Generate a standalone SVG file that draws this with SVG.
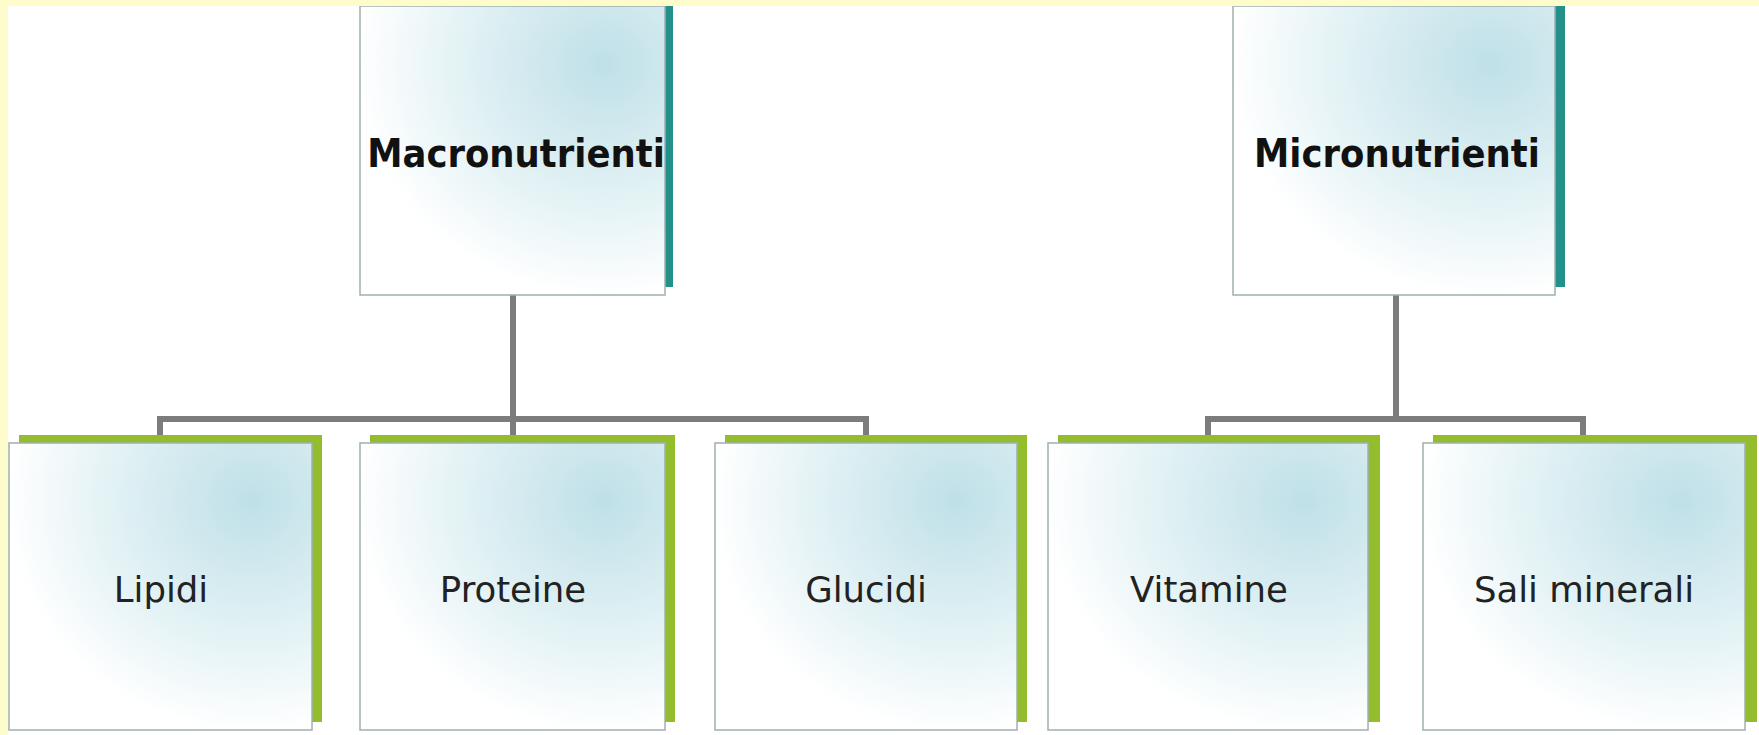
<svg xmlns="http://www.w3.org/2000/svg" width="1759" height="735" viewBox="0 0 1759 735">
  <defs>
    <radialGradient id="fill" cx="0.8" cy="0.2" r="0.95" fx="0.8" fy="0.2">
      <stop offset="0" stop-color="#bfe0e8"/>
      <stop offset="0.5" stop-color="#e3f2f5"/>
      <stop offset="0.85" stop-color="#ffffff"/>
    </radialGradient>
    <style>
      .box { fill: url(#fill); stroke: #9fb0b0; stroke-width: 1.5; }
      .sh-teal { fill: #23908a; }
      .sh-green { fill: #93bd2c; }
      .conn { fill: none; stroke: #7c7c7c; stroke-width: 6; stroke-linejoin: miter; }
      .t-parent { font-family: "DejaVu Sans", Verdana, sans-serif; font-weight: bold; font-size: 35.5px; fill: #111; text-anchor: middle; }
      .t-child { font-family: "DejaVu Sans", Verdana, sans-serif; font-size: 35.5px; fill: #222; text-anchor: middle; }
    </style>
  </defs>

  <rect x="0" y="0" width="1759" height="735" fill="#ffffff"/>

  <g id="connectors">
    <path class="conn" d="M513,295 V419 M160,435 V419 H866 V435 M513,419 V435"/>
    <path class="conn" d="M1396,295 V419 M1208,435 V419 H1583 V435"/>
  </g>

  <g id="macronutrienti">
    <rect class="sh-teal" x="368" y="-2" width="305" height="289"/>
    <rect class="box" x="360" y="6" width="305" height="289"/>
    <text class="t-parent" transform="translate(516,167) scale(1,1.1)">Macronutrienti</text>
  </g>

  <g id="micronutrienti">
    <rect class="sh-teal" x="1243" y="-2" width="322" height="289"/>
    <rect class="box" x="1233" y="6" width="322" height="289"/>
    <text class="t-parent" transform="translate(1397,167) scale(1,1.1)">Micronutrienti</text>
  </g>

  <g id="lipidi">
    <rect class="sh-green" x="19" y="435" width="303" height="287"/>
    <rect class="box" x="9" y="443" width="303" height="287"/>
    <text class="t-child" x="161" y="602">Lipidi</text>
  </g>

  <g id="proteine">
    <rect class="sh-green" x="370" y="435" width="305" height="287"/>
    <rect class="box" x="360" y="443" width="305" height="287"/>
    <text class="t-child" x="513" y="602">Proteine</text>
  </g>

  <g id="glucidi">
    <rect class="sh-green" x="725" y="435" width="302" height="287"/>
    <rect class="box" x="715" y="443" width="302" height="287"/>
    <text class="t-child" x="866" y="602">Glucidi</text>
  </g>

  <g id="vitamine">
    <rect class="sh-green" x="1058" y="435" width="322" height="287"/>
    <rect class="box" x="1048" y="443" width="320" height="287"/>
    <text class="t-child" x="1209" y="602">Vitamine</text>
  </g>

  <g id="sali-minerali">
    <rect class="sh-green" x="1433" y="435" width="324" height="287"/>
    <rect class="box" x="1423" y="443" width="322" height="287"/>
    <text class="t-child" x="1584" y="602">Sali minerali</text>
  </g>

  <rect x="0" y="0" width="1759" height="6" fill="#fffccc"/>
  <rect x="0" y="0" width="8" height="735" fill="#fffccc"/>
</svg>
